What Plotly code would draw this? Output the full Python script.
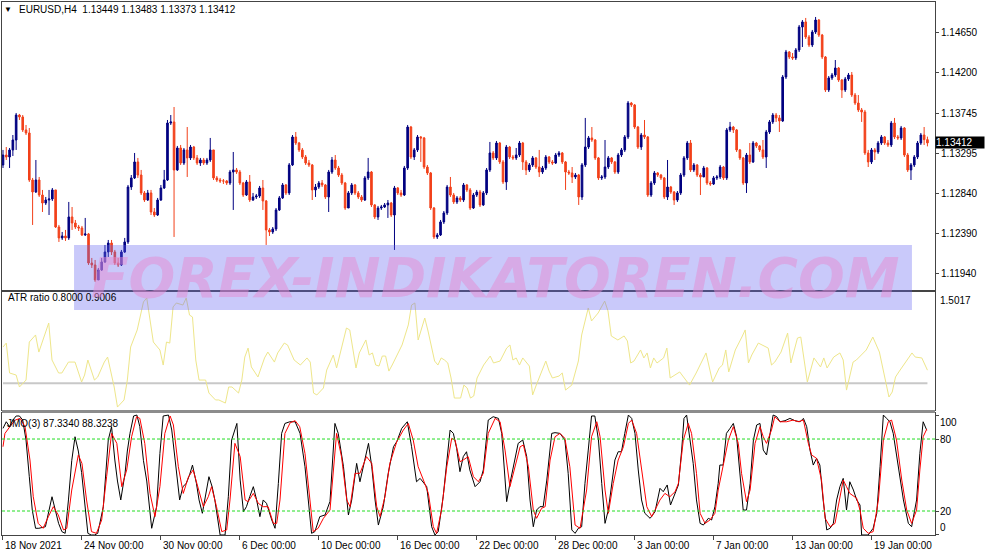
import plotly.graph_objects as go

# EURUSD H4 -- one entry per bar, bar number is the position on the time axis
first_open = 1.13164
close = [
    1.13276, 1.13254, 1.13333, 1.13445, 1.13726, 1.13704, 1.13558, 1.13524, 1.12995, 1.12860,
    1.12995, 1.12826, 1.12736, 1.12770, 1.12781, 1.12883, 1.12466, 1.12343, 1.12365, 1.12343,
    1.12579, 1.12511, 1.12466, 1.12455, 1.12376, 1.12388, 1.12061, 1.12039, 1.11870, 1.11983,
    1.12073, 1.12185, 1.12286, 1.12185, 1.12061, 1.12039, 1.12185, 1.12298, 1.12916, 1.13018,
    1.13198, 1.13051, 1.12849, 1.12770, 1.12849, 1.12635, 1.12601, 1.12770, 1.12905, 1.12995,
    1.13636, 1.13648, 1.13108, 1.13355, 1.13186, 1.13333, 1.13243, 1.13366, 1.13243, 1.13186,
    1.13220, 1.13186, 1.13220, 1.13333, 1.13018, 1.12995, 1.12984, 1.12984, 1.12961, 1.13085,
    1.13108, 1.13085, 1.12961, 1.12826, 1.12973, 1.12770, 1.12804, 1.12815, 1.12905, 1.12759,
    1.12433, 1.12410, 1.12444, 1.12658, 1.12793, 1.12939, 1.12849, 1.13164, 1.13479, 1.13411,
    1.13333, 1.13254, 1.13186, 1.13164, 1.12883, 1.12916, 1.12961, 1.12939, 1.12804, 1.13085,
    1.13220, 1.13130, 1.13051, 1.12961, 1.12680, 1.12849, 1.12939, 1.12849, 1.12804, 1.12770,
    1.13018, 1.13085, 1.12714, 1.12579, 1.12680, 1.12691, 1.12714, 1.12736, 1.12601, 1.12905,
    1.12849, 1.12826, 1.13130, 1.13591, 1.13254, 1.13333, 1.13479, 1.13468, 1.13141, 1.13074,
    1.12680, 1.12354, 1.12376, 1.12523, 1.12624, 1.12916, 1.12826, 1.12748, 1.12793, 1.12770,
    1.12939, 1.12883, 1.12680, 1.12826, 1.12860, 1.12714, 1.12849, 1.13108, 1.13299, 1.13243,
    1.13411, 1.13198, 1.12973, 1.13366, 1.13254, 1.13243, 1.13276, 1.13411, 1.13198, 1.13108,
    1.13164, 1.13243, 1.13141, 1.13085, 1.13130, 1.13254, 1.13198, 1.13186, 1.13276, 1.13299,
    1.13198, 1.13085, 1.13074, 1.13029, 1.13051, 1.12804, 1.13164, 1.13366, 1.13468, 1.13445,
    1.13243, 1.13018, 1.13029, 1.13141, 1.13243, 1.13198, 1.13085, 1.13276, 1.13333, 1.13479,
    1.13861, 1.13839, 1.13591, 1.13366, 1.13501, 1.13479, 1.12826, 1.12961, 1.13074, 1.13051,
    1.13018, 1.12804, 1.12916, 1.12860, 1.12770, 1.12849, 1.13051, 1.13243, 1.13411, 1.13108,
    1.13164, 1.13051, 1.13029, 1.13130, 1.12961, 1.12950, 1.13018, 1.13029, 1.13141, 1.13018,
    1.13558, 1.13591, 1.13558, 1.13333, 1.13243, 1.12961, 1.13276, 1.13198, 1.13411, 1.13378,
    1.13333, 1.13254, 1.13535, 1.13648, 1.13726, 1.13693, 1.13659, 1.14154, 1.14435, 1.14379,
    1.14368, 1.14458, 1.14716, 1.14773, 1.14604, 1.14514, 1.14660, 1.14795, 1.14626, 1.14379,
    1.14008, 1.14143, 1.14176, 1.14255, 1.14120, 1.14008, 1.14131, 1.14176, 1.13951, 1.13861,
    1.13783, 1.13760, 1.13299, 1.13198, 1.13333, 1.13310, 1.13411, 1.13479, 1.13411, 1.13389,
    1.13636, 1.13479, 1.13468, 1.13580, 1.13276, 1.13108, 1.13164, 1.13254, 1.13411, 1.13501,
    1.13449, 1.13412,
]
high = [
    1.13333, 1.13366, 1.13355, 1.13501, 1.13749, 1.13738, 1.13726, 1.13614, 1.13580, 1.13018,
    1.13220, 1.13029, 1.12883, 1.12804, 1.12883, 1.12905, 1.12883, 1.12489, 1.12410, 1.12433,
    1.12748, 1.12691, 1.12545, 1.12489, 1.12478, 1.12568, 1.12399, 1.12118, 1.12095, 1.12005,
    1.12118, 1.12264, 1.12320, 1.12320, 1.12208, 1.12118, 1.12208, 1.12343, 1.12939, 1.13051,
    1.13299, 1.13243, 1.13108, 1.12871, 1.12883, 1.12883, 1.12680, 1.12793, 1.12939, 1.13108,
    1.13670, 1.13726, 1.13816, 1.13378, 1.13389, 1.13355, 1.13591, 1.13389, 1.13378, 1.13276,
    1.13243, 1.13243, 1.13243, 1.13468, 1.13333, 1.13040, 1.13018, 1.13006, 1.12995, 1.13108,
    1.13310, 1.13130, 1.13108, 1.12973, 1.12995, 1.13051, 1.12849, 1.12838, 1.12928, 1.12995,
    1.12770, 1.12455, 1.12466, 1.12680, 1.12815, 1.12961, 1.12950, 1.13186, 1.13501, 1.13535,
    1.13423, 1.13355, 1.13276, 1.13220, 1.13175, 1.12950, 1.12984, 1.12995, 1.12950, 1.13108,
    1.13254, 1.13276, 1.13153, 1.13074, 1.12973, 1.12871, 1.12961, 1.12950, 1.12871, 1.12826,
    1.13040, 1.13243, 1.13096, 1.12725, 1.12703, 1.12714, 1.12736, 1.12770, 1.12748, 1.12928,
    1.12916, 1.12883, 1.13153, 1.13614, 1.13603, 1.13355, 1.13501, 1.13490, 1.13479, 1.13164,
    1.13085, 1.12691, 1.12399, 1.12545, 1.12646, 1.12939, 1.13029, 1.12849, 1.12815, 1.12815,
    1.12961, 1.12950, 1.12905, 1.12849, 1.12883, 1.12883, 1.12871, 1.13130, 1.13423, 1.13321,
    1.13434, 1.13423, 1.13220, 1.13389, 1.13378, 1.13276, 1.13355, 1.13434, 1.13423, 1.13220,
    1.13186, 1.13265, 1.13254, 1.13333, 1.13153, 1.13276, 1.13265, 1.13220, 1.13299, 1.13321,
    1.13310, 1.13209, 1.13108, 1.13141, 1.13074, 1.13063, 1.13186, 1.13693, 1.13490, 1.13591,
    1.13456, 1.13254, 1.13051, 1.13445, 1.13265, 1.13254, 1.13209, 1.13299, 1.13355, 1.13501,
    1.13884, 1.13873, 1.13850, 1.13603, 1.13524, 1.13670, 1.13490, 1.12984, 1.13096, 1.13085,
    1.13063, 1.13029, 1.13220, 1.12928, 1.12871, 1.12871, 1.13074, 1.13265, 1.13434, 1.13445,
    1.13186, 1.13175, 1.13074, 1.13153, 1.13141, 1.12984, 1.13040, 1.13051, 1.13164, 1.13153,
    1.13580, 1.13648, 1.13603, 1.13569, 1.13344, 1.13254, 1.13299, 1.13411, 1.13434, 1.13423,
    1.13389, 1.13445, 1.13558, 1.13670, 1.13749, 1.13749, 1.13726, 1.14176, 1.14458, 1.14446,
    1.14424, 1.14480, 1.14739, 1.14795, 1.14818, 1.14626, 1.14683, 1.14829, 1.14806, 1.14638,
    1.14390, 1.14165, 1.14199, 1.14345, 1.14266, 1.14131, 1.14154, 1.14199, 1.14210, 1.13974,
    1.13951, 1.13805, 1.13783, 1.13333, 1.13355, 1.13355, 1.13434, 1.13501, 1.13490, 1.13445,
    1.13659, 1.13693, 1.13501, 1.13603, 1.13591, 1.13299, 1.13186, 1.13276, 1.13434, 1.13524,
    1.13591, 1.13483,
]
low = [
    1.13130, 1.13220, 1.13130, 1.13265, 1.13333, 1.13670, 1.13535, 1.13501, 1.12973, 1.12489,
    1.12849, 1.12804, 1.12635, 1.12714, 1.12601, 1.12759, 1.12455, 1.12298, 1.12320, 1.12309,
    1.12320, 1.12433, 1.12444, 1.12421, 1.12365, 1.12365, 1.12039, 1.12005, 1.11848, 1.11949,
    1.11971, 1.12061, 1.12129, 1.12151, 1.12039, 1.12016, 1.12028, 1.12174, 1.12275, 1.12883,
    1.13006, 1.13018, 1.12826, 1.12748, 1.12759, 1.12601, 1.12579, 1.12590, 1.12759, 1.12894,
    1.12984, 1.13614, 1.12354, 1.13096, 1.13164, 1.13164, 1.13029, 1.13220, 1.13220, 1.13164,
    1.13153, 1.13164, 1.13164, 1.13198, 1.12995, 1.12973, 1.12961, 1.12950, 1.12939, 1.12939,
    1.12658, 1.13063, 1.12939, 1.12804, 1.12815, 1.12748, 1.12759, 1.12781, 1.12793, 1.12658,
    1.12264, 1.12365, 1.12388, 1.12421, 1.12646, 1.12781, 1.12826, 1.12826, 1.13153, 1.13389,
    1.13310, 1.13231, 1.13164, 1.13141, 1.12770, 1.12804, 1.12894, 1.12916, 1.12781, 1.12635,
    1.13063, 1.13108, 1.13029, 1.12939, 1.12658, 1.12680, 1.12826, 1.12826, 1.12781, 1.12748,
    1.12759, 1.12995, 1.12691, 1.12556, 1.12545, 1.12658, 1.12680, 1.12568, 1.12579, 1.12208,
    1.12826, 1.12804, 1.12815, 1.13108, 1.13231, 1.13220, 1.13310, 1.13198, 1.13119, 1.13051,
    1.12658, 1.12331, 1.12331, 1.12365, 1.12500, 1.12601, 1.12804, 1.12725, 1.12725, 1.12748,
    1.12748, 1.12860, 1.12658, 1.12669, 1.12804, 1.12691, 1.12703, 1.12826, 1.13085, 1.13220,
    1.13220, 1.13175, 1.12950, 1.12883, 1.13231, 1.13220, 1.13220, 1.13254, 1.13108, 1.13051,
    1.13085, 1.13141, 1.13119, 1.13029, 1.13063, 1.13108, 1.13175, 1.13164, 1.13175, 1.13254,
    1.13175, 1.12883, 1.13051, 1.12961, 1.13006, 1.12714, 1.12770, 1.13141, 1.13344, 1.13423,
    1.13220, 1.12995, 1.12995, 1.13006, 1.13119, 1.13175, 1.13063, 1.13063, 1.13254, 1.13310,
    1.13456, 1.13816, 1.13569, 1.13344, 1.13333, 1.13456, 1.12804, 1.12804, 1.12939, 1.13029,
    1.12995, 1.12781, 1.12770, 1.12838, 1.12714, 1.12748, 1.12826, 1.13029, 1.13220, 1.13085,
    1.13085, 1.13029, 1.12826, 1.13029, 1.12939, 1.12928, 1.12939, 1.12995, 1.13006, 1.12995,
    1.12995, 1.13535, 1.13524, 1.13310, 1.13220, 1.12939, 1.12849, 1.13175, 1.13186, 1.13355,
    1.13310, 1.13231, 1.13130, 1.13513, 1.13625, 1.13648, 1.13535, 1.13648, 1.14131, 1.14356,
    1.14345, 1.14345, 1.14435, 1.14491, 1.14581, 1.14491, 1.14491, 1.14638, 1.14604, 1.14356,
    1.13985, 1.13985, 1.14120, 1.14154, 1.14098, 1.13918, 1.13985, 1.14109, 1.13929, 1.13839,
    1.13760, 1.13648, 1.13276, 1.13141, 1.13175, 1.13220, 1.13288, 1.13389, 1.13389, 1.13366,
    1.13366, 1.13456, 1.13445, 1.13445, 1.13254, 1.13085, 1.12995, 1.13141, 1.13231, 1.13389,
    1.13389, 1.13373,
]
assert len(close) == len(high) == len(low)

# every H4 bar opens where the one before it closed
open_ = [first_open] + close[:-1]
bars = list(range(len(close)))

# ATR ratio: (bar, value)
atr_points = [
    (0, 1.081), (1, 1.112), (2, 0.879), (4, 0.863), (5, 0.770), (7, 0.824), (8, 1.120), (9.9, 1.175),
    (10.9, 1.042), (12.9, 1.190), (13.9, 1.268), (14.9, 0.980), (16.9, 0.879), (17.9, 0.879), (19.9, 0.964),
    (21.9, 0.964), (23.9, 0.809), (24.8, 0.863), (25.8, 0.980), (27.8, 0.824), (28.8, 0.848), (30.8, 0.964),
    (31.8, 1.003), (33.8, 0.770), (34.8, 0.614), (36.8, 0.669), (37.8, 0.824), (38.8, 1.081), (40.8, 1.214),
    (42.7, 1.432), (43.7, 1.463), (44.7, 1.292), (45.7, 1.120), (47.7, 1.058), (48.7, 0.941), (49.7, 1.120),
    (50.7, 1.112), (51.7, 1.393), (52.7, 1.424), (54.7, 1.408), (55.7, 1.463), (56.7, 1.330), (57.6, 1.315),
    (58.6, 0.980), (59.6, 0.824), (61.6, 0.824), (62.6, 0.723), (64.6, 0.669), (65.6, 0.669), (67.6, 0.645),
    (68.6, 0.770), (69.6, 0.770), (71.6, 0.723), (72.6, 0.824), (73.5, 1.003), (74.5, 1.073), (75.5, 0.926),
    (77.5, 0.848), (79.5, 0.996), (80.5, 1.042), (82.5, 0.964), (83.5, 1.035), (85.5, 1.112), (86.5, 1.097),
    (88.5, 0.980), (90.4, 0.941), (92.4, 0.996), (93.4, 0.964), (94.4, 0.723), (95.4, 0.708), (97.4, 0.762),
    (98.4, 0.902), (100.4, 1.019), (101.4, 0.918), (102.4, 1.019), (104.4, 1.229), (105.4, 1.214),
    (107.3, 0.918), (108.3, 1.035), (110.3, 1.136), (111.3, 1.019), (112.3, 1.035), (113.3, 0.941),
    (114.3, 0.933), (115.3, 1.011), (116.3, 1.011), (117.3, 0.894), (118.3, 0.941), (121.3, 1.097),
    (123.2, 1.253), (124.2, 1.408), (125.2, 1.424), (126.2, 1.136), (128.2, 1.307), (129.2, 1.206),
    (131.2, 0.972), (132.2, 0.941), (133.2, 0.996), (134.2, 0.980), (135.2, 0.957), (136.2, 0.840),
    (137.2, 0.684), (139.1, 0.684), (140.1, 0.785), (141.1, 0.762), (142.1, 0.684), (143.1, 0.700),
    (144.1, 0.840), (146.1, 0.941), (148.1, 1.011), (149.1, 0.957), (151.1, 0.972), (153.1, 1.073),
    (154.1, 1.097), (155, 0.980), (156, 0.996), (157, 0.941), (158, 0.996), (160, 0.933), (161, 0.708),
    (162, 0.778), (164, 0.902), (165, 0.972), (166, 0.894), (167, 0.840), (169, 0.855), (170, 0.879),
    (171, 0.746), (172.9, 0.785), (174.9, 0.972), (175.9, 1.175), (177.9, 1.385), (178.9, 1.284),
    (180.9, 1.346), (182.9, 1.439), (183.9, 1.362), (184.9, 1.167), (186.9, 1.136), (188.8, 1.167),
    (189.8, 1.128), (190.8, 0.957), (191.8, 0.972), (193.8, 1.058), (194.8, 0.996), (195.8, 1.035),
    (196.8, 0.918), (197.8, 0.996), (198.8, 0.957), (200.8, 0.996), (201.8, 1.073), (202.8, 0.840),
    (205.7, 0.887), (208.7, 0.785), (210.7, 0.879), (213.7, 1.035), (215.7, 0.809), (217.7, 0.918),
    (218.7, 0.941), (219.7, 1.058), (220.6, 0.887), (222.6, 1.058), (224.6, 1.159), (225.6, 1.214),
    (226.6, 0.957), (227.6, 1.019), (229.6, 1.112), (232.6, 1.073), (233.6, 0.941), (234.6, 0.964),
    (236.5, 1.042), (238.5, 1.190), (239.5, 0.957), (241.5, 1.151), (242.5, 1.159), (244.5, 0.809),
    (246.5, 0.996), (248.5, 0.926), (249.5, 0.996), (250.5, 0.918), (252.5, 1.003), (254.4, 1.035),
    (255.4, 0.980), (256.4, 0.746), (258.4, 0.964), (259.4, 0.980), (262.4, 1.058), (264.4, 1.159),
    (266.4, 1.042), (267.4, 0.926), (269.3, 0.692), (270.3, 0.731), (271.3, 0.848), (272.3, 0.887),
    (274.3, 0.964), (276.3, 1.035), (277.3, 1.003), (279.3, 0.996), (281, 0.901),
]
atr_level = 0.8

# JMO(3) main line and its signal line: (bar, value)
jmo_points = [
    (0, 88.9), (1, 94.4), (2, 90.3), (3, 95.8), (4, 99.2), (5, 99.2), (6, 95.8), (7, 79.2), (8, 48.6),
    (8.9, 20.8), (9.9, 5.6), (10.9, 5.6), (12.9, 6.9), (13.9, 20.8), (14.9, 31.9), (15.9, 20.8), (16.9, 9.7),
    (17.9, 2.8), (18.9, 1.4), (19.9, 29.2), (20.9, 62), (21.9, 81.9), (22.9, 70), (23.9, 52), (24.8, 26.4),
    (25.8, 1.4), (26.8, 0), (27.8, 0), (28.8, 1.4), (30.5, 23.6), (32, 79.2), (33, 90.3), (34, 62.5),
    (34.8, 45), (35.8, 29.2), (37.1, 51.4), (37.8, 70), (38.6, 84.7), (39.7, 99.2), (40.7, 100), (41.6, 90.3),
    (42.7, 62), (43.7, 45), (44.7, 20.8), (45.2, 5.6), (46.7, 23.6), (47.7, 68), (48.7, 99.2), (50.3, 100),
    (51.3, 87.5), (52.3, 65.3), (53.7, 29.2), (54.7, 40.3), (55.7, 43), (56.7, 50), (57.6, 58.3), (58.8, 43),
    (59.6, 29.2), (60.6, 18.1), (61.6, 34.7), (62.6, 48.6), (63.6, 40), (64.4, 29.2), (66, 0), (67.5, 0),
    (68.5, 31.9), (69.5, 79.2), (71.1, 93), (72.1, 45.8), (73.1, 19.4), (74, 23.6), (75, 31.9), (76.1, 40.3),
    (77.1, 29.2), (78.1, 15.3), (79.1, 29.2), (80.1, 26.4), (81.7, 12.5), (82.7, 5.6), (83.7, 43),
    (84.7, 84.7), (85.7, 93), (87.2, 94.4), (88.8, 94.4), (90.3, 84.7), (91.8, 56.9), (92.8, 29.2),
    (93.8, 1.4), (94.8, 2.8), (96.3, 15.3), (97.9, 16.7), (99.4, 28), (100.9, 93), (101.9, 84.7),
    (103.5, 56.9), (105, 16.7), (106, 29.2), (107.5, 59.7), (108.5, 44.4), (109.5, 56.9), (111.1, 76.4),
    (112.1, 56.9), (113.1, 29.2), (114.1, 8.3), (115.6, 23.6), (117.1, 51.4), (118.7, 73.6), (119.7, 77.8),
    (121.2, 88.9), (122.9, 94.4), (124.2, 73.6), (125.7, 44.4), (126.8, 47.2), (128.8, 40.3), (130.3, 6.9),
    (131.3, 0), (132.3, 2.8), (133.8, 31.9), (135.4, 70.8), (135.9, 87.5), (136.9, 84.7), (137.9, 72.2),
    (138.9, 52.8), (139.9, 65.3), (140.9, 69.4), (141.9, 54.2), (143.5, 40.3), (145, 44.4), (146, 54.2),
    (147.5, 95.8), (149, 98.6), (150.6, 97.2), (151.6, 84.7), (152.6, 51.4), (153.1, 27.8), (154.1, 43),
    (155.1, 56.9), (156.6, 76.4), (158, 79.2), (159.2, 65.3), (160.2, 29.2), (161.2, 6.9), (162.2, 20.8),
    (163.2, 23.6), (164.2, 23.6), (165.3, 45.8), (166.8, 84.7), (167.8, 85.3), (169.3, 84.7), (170.8, 79.2),
    (171.8, 51.4), (172.9, 4.2), (173.9, 1.4), (174.9, 5.6), (175.9, 6.9), (176.9, 43), (177.9, 70.8),
    (178.9, 99.2), (179.9, 99.2), (181, 79.2), (182, 43), (183, 9.7), (184, 20.8), (185, 43), (186, 62.5),
    (187, 69.4), (188, 69.4), (189, 84.7), (190.1, 100), (191.1, 97.2), (192.1, 84.7), (193.1, 54.2),
    (194.1, 29.2), (195.1, 18.1), (196.7, 13.9), (198.2, 19.4), (199.7, 38.9), (200.7, 36.1), (201.9, 41.7),
    (202.9, 25), (204.3, 34.7), (205.3, 41.7), (206.3, 70.8), (207, 97.2), (207.8, 100), (208.8, 81.9),
    (209.8, 59.7), (210.8, 29.2), (211.9, 9.7), (212.9, 8.3), (214.4, 13.9), (215.4, 12.5), (216.4, 23.6),
    (217.4, 43), (217.9, 58.3), (218.9, 58.3), (219.9, 84.7), (221, 88.9), (222, 93), (223, 81.9),
    (224, 48.6), (225, 20.8), (226, 20.8), (227.1, 43), (228.1, 79.2), (229.1, 91.7), (230.1, 93),
    (231.1, 70.8), (232.1, 66.7), (233.1, 84.7), (234.1, 100), (235.2, 98.6), (236.2, 94.4), (237.7, 95.3),
    (239.2, 97.2), (240.7, 95.3), (242.3, 94.4), (243.3, 97.2), (244.3, 90.3), (245.3, 70.8), (246.3, 58.3),
    (247.3, 63.9), (248.3, 58.3), (249.3, 29.2), (250.4, 4.2), (251.4, 5.6), (252.4, 9.7), (253.4, 29.2),
    (254.4, 40.3), (255.4, 47.2), (256.4, 20.8), (257.4, 44.4), (258.5, 37.5), (259.5, 29.2), (260.5, 25),
    (261, 0), (263, 0), (264.5, 5.6), (265.6, 18.1), (266.6, 56.9), (267.6, 100), (268.6, 97.2),
    (269.6, 94.4), (270.6, 84.7), (271.6, 68), (272.6, 48.6), (273.7, 29.2), (275.2, 9.7), (276.2, 6.9),
    (277.7, 29.2), (278.7, 68), (279.7, 94.4), (280.8, 87.3),
]
jmo_signal_points = [
    (0, 73.6), (0.6, 84.7), (2.1, 90.3), (3.7, 95.8), (5.2, 97.2), (6.7, 90.3), (8.2, 62.5), (9.2, 31.9),
    (10.7, 9.7), (12.2, 5.6), (13.8, 15.3), (15.3, 23.6), (16.8, 16.7), (18.4, 4.2), (19.4, 5.6), (20.9, 37.5),
    (22.9, 66.7), (24, 59.7), (25.4, 29.2), (26.9, 2.8), (28.4, 1.4), (30, 12.5), (31.5, 48.6), (33, 84.7),
    (34.6, 76.4), (36.1, 40.3), (37.6, 54.2), (39.1, 81.9), (40.6, 98.6), (41.6, 97.2), (43.1, 76.4),
    (44.7, 34.7), (46.2, 15.3), (47.7, 40.3), (49.2, 84.7), (50.8, 99.2), (51.8, 91.7), (53.3, 56.9),
    (54.8, 34.7), (56.4, 48.6), (57.8, 54.2), (59.3, 40.3), (60.9, 23.6), (62.4, 31.9), (63.4, 40.3),
    (64.9, 23.6), (66.5, 2.8), (68, 4.2), (69, 29.2), (70.5, 76.4), (72.1, 65.3), (73.6, 29.2), (74.5, 27.8),
    (76.1, 34.7), (77.6, 26.4), (79.1, 23.6), (80.6, 23.6), (82.2, 9.7), (83.2, 9.7), (84.2, 29.2),
    (85.7, 84.7), (87.3, 93.6), (88.8, 95.3), (90.2, 90.3), (91.8, 68), (93.3, 29.2), (94.3, 2.8),
    (95.8, 5.6), (97.4, 13.9), (99.4, 20.8), (101.4, 84.7), (102.9, 65.3), (104.5, 29.2), (105.5, 23.6),
    (107, 51.4), (108.5, 51.4), (110.5, 65.3), (112.1, 59.7), (113.6, 23.6), (114.6, 15.3), (116.1, 31.9),
    (117.6, 59.7), (119.7, 77.8), (121.7, 87.5), (123.2, 93), (124.7, 79.2), (126.2, 56.9), (127.8, 45.8),
    (129.3, 34.7), (130.8, 6.9), (131.8, 1.4), (133.3, 20.8), (134.9, 56.9), (136.4, 80.6), (137.4, 79.2),
    (138.9, 61.1), (139.9, 62.5), (141.4, 65.3), (143, 48.6), (144.5, 44.4), (146, 51.4), (147.5, 84.7),
    (149.6, 97.2), (151.1, 94.4), (152.6, 70.8), (154.1, 40.3), (155.6, 56.9), (157.2, 73.6), (158.2, 75),
    (159.7, 56.9), (161.2, 20.8), (162.2, 13.9), (163.7, 22.2), (164.8, 23.6), (166.3, 62.5), (167.8, 81.9),
    (169.3, 84.7), (170.8, 80.6), (172.3, 56.9), (173.9, 8.3), (175.4, 5.6), (177.4, 37.5), (178.9, 81.9),
    (180.5, 94.4), (181.5, 81.9), (183, 37.5), (184, 18.1), (185.5, 43), (187, 62.5), (188.6, 73.6),
    (190.1, 93), (191.1, 95.8), (192.6, 84.7), (194.1, 54.2), (195.7, 23.6), (197.2, 15.3), (198.7, 23.6),
    (199.7, 29.2), (201.2, 34.7), (202.7, 31.9), (204.3, 36.1), (205.3, 43), (206.8, 79.2), (208.3, 93),
    (209.3, 84.7), (210.8, 51.4), (211.9, 18.1), (213.4, 9.7), (214.9, 12.5), (216.4, 18.1), (217.4, 37.5),
    (218.9, 56.9), (220.5, 79.2), (222, 90.3), (223.5, 76.4), (224.5, 51.4), (226, 27.8), (227.1, 37.5),
    (228.6, 76.4), (230.1, 90.3), (231.1, 81.9), (232.1, 76.4), (233.6, 87.5), (234.6, 98.6), (236.2, 94.4),
    (238.2, 94.4), (240.2, 95.8), (241.7, 94.4), (243.3, 95.8), (244.8, 76.4), (245.8, 66.7), (247.3, 63.9),
    (248.8, 45.8), (249.9, 13.9), (251.4, 6.9), (252.9, 9.7), (254.4, 31.9), (255.4, 45.8), (256.4, 40.3),
    (257.4, 34.7), (259.5, 30.6), (260.5, 20.8), (261.5, 5.6), (263, 1.4), (264.5, 2.8), (266.1, 29.2),
    (267.6, 79.2), (269.1, 94.4), (270.1, 95.8), (271.6, 79.2), (273.2, 45.8), (274.7, 20.8), (276.2, 9.7),
    (277.7, 20.8), (278.7, 54.2), (279.7, 81.9), (280.8, 88.3),
]
jmo_levels = [80, 20]
jmo_scale = [100, 80, 20, 0]

price_ticks = [1.11940, 1.12390, 1.12840, 1.13295, 1.13745, 1.14200, 1.14650]
time_tick_bars = [0, 24, 48, 72, 96, 120, 144, 168, 192, 216, 240, 264]
time_tick_labels = ['18 Nov 2021', '24 Nov 00:00', '30 Nov 00:00', '6 Dec 00:00', '10 Dec 00:00',
                    '16 Dec 00:00', '22 Dec 00:00', '28 Dec 00:00', '3 Jan 00:00', '7 Jan 00:00',
                    '13 Jan 00:00', '19 Jan 00:00']

BULL = '#000080'
BEAR = '#f2401a'
FONT = 'Liberation Sans'
small = dict(family=FONT, size=10, color='black')

fig = go.Figure()

fig.add_trace(go.Candlestick(
    x=bars, open=open_, high=high, low=low, close=close,
    increasing=dict(line=dict(color=BULL, width=1), fillcolor=BULL),
    decreasing=dict(line=dict(color=BEAR, width=1), fillcolor=BEAR),
    whiskerwidth=0, showlegend=False, xaxis='x', yaxis='y',
))

fig.add_trace(go.Scatter(
    x=[bars[0], bars[-1]], y=[atr_level, atr_level], mode='lines',
    line=dict(color='#c8c8c8', width=2), showlegend=False, xaxis='x2', yaxis='y2',
))
fig.add_trace(go.Scatter(
    x=[p[0] for p in atr_points], y=[p[1] for p in atr_points], mode='lines',
    line=dict(color='#eee68a', width=1), showlegend=False, xaxis='x2', yaxis='y2',
))

fig.add_trace(go.Scatter(
    x=[p[0] for p in jmo_points], y=[p[1] for p in jmo_points], mode='lines',
    line=dict(color='black', width=1), showlegend=False, xaxis='x3', yaxis='y3',
))
fig.add_trace(go.Scatter(
    x=[p[0] for p in jmo_signal_points], y=[p[1] for p in jmo_signal_points], mode='lines',
    line=dict(color='#ff0000', width=1), showlegend=False, xaxis='x3', yaxis='y3',
))

frame = dict(showgrid=False, zeroline=False, showline=True, linecolor='#444', linewidth=1, mirror=True)

fig.update_layout(
    width=987, height=555,
    margin=dict(l=2, r=52, t=2, b=20),
    paper_bgcolor='white', plot_bgcolor='white',
    showlegend=False,
    xaxis=dict(domain=[0, 1], anchor='y', range=[-0.3, 283.3], showticklabels=False, ticks='',
               rangeslider=dict(visible=False), **frame),
    xaxis2=dict(domain=[0, 1], anchor='y2', matches='x', showticklabels=False, ticks='', **frame),
    xaxis3=dict(domain=[0, 1], anchor='y3', matches='x', tickmode='array', tickvals=time_tick_bars,
                ticks='outside', ticklen=4, tickcolor='#444', showticklabels=False, **frame),
    yaxis=dict(domain=[0.4597, 1.0], side='right', range=[1.117575, 1.149975],
               tickmode='array', tickvals=price_ticks, ticktext=[f'{v:.5f}' for v in price_ticks],
               ticks='outside', ticklen=3, tickcolor='#444', tickfont=small, **frame),
    yaxis2=dict(domain=[0.2345, 0.4559], side='right', range=[0.5908, 1.5095],
                showticklabels=False, ticks='', **frame),
    yaxis3=dict(domain=[0, 0.2289], side='right', range=[0, 101.7], tickmode='array',
                tickvals=jmo_scale, ticks='outside', ticklen=3, tickcolor='#444',
                showticklabels=False, **frame),
)

# level lines of the JMO window
for lv in jmo_levels:
    fig.add_shape(type='line', xref='x3 domain', x0=0, x1=1, yref='y3', y0=lv, y1=lv,
                  line=dict(color='#22dd22', width=1, dash='3px,2px'))

# thick separator between ATR and JMO windows
fig.add_shape(type='rect', xref='paper', x0=0, x1=1, yref='paper', y0=0.2289, y1=0.2345,
              fillcolor='#8c8c8c', line=dict(width=0))

# watermark band
fig.add_shape(type='rect', xref='paper', x0=0.0772, x1=0.9753, yref='paper', y0=0.4221, y1=0.5441,
              fillcolor='rgba(100,100,240,0.35)', line=dict(width=0), layer='above')

ann = []
ann.append(dict(xref='paper', yref='paper', x=0.0064, y=0.985, text='▼', showarrow=False,
                font=dict(family=FONT, size=8, color='black'), xanchor='center', yanchor='middle'))
ann.append(dict(xref='paper', yref='paper', x=0.0161, y=0.985,
                text='EURUSD,H4  1.13449 1.13483 1.13373 1.13412', showarrow=False,
                font=small, xanchor='left', yanchor='middle'))
ann.append(dict(xref='paper', yref='paper', x=0.0043, y=0.4447, text='ATR ratio 0.8000 0.9006',
                showarrow=False, font=small, xanchor='left', yanchor='middle'))
ann.append(dict(xref='paper', yref='paper', x=0.0032, y=0.2101, text='JMO(3) 87.3340 88.3238',
                showarrow=False, font=small, xanchor='left', yanchor='middle'))

# current price box on the price scale
ann.append(dict(xref='paper', yref='y', x=1, y=close[-1], text=f'{close[-1]:.5f}', showarrow=False,
                xanchor='left', yanchor='middle', bgcolor='black', width=48, align='left',
                borderpad=0, font=dict(family=FONT, size=10, color='white')))

# ATR scale
ann.append(dict(xref='paper', yref='y2', x=1, xshift=3, y=1.5017, text='1.5017', showarrow=False,
                xanchor='left', yanchor='top', font=small))
ann.append(dict(xref='paper', yref='y2', x=1, xshift=3, y=0.5907, text='0.5907', showarrow=False,
                xanchor='left', yanchor='bottom', font=small))

# JMO scale
for v in jmo_scale:
    anchor = 'top' if v == 100 else ('bottom' if v == 0 else 'middle')
    ann.append(dict(xref='paper', yref='y3', x=1, xshift=3, y=v, text=str(v), showarrow=False,
                    xanchor='left', yanchor=anchor, font=small))

# time scale
for b, lab in zip(time_tick_bars, time_tick_labels):
    ann.append(dict(xref='x3', yref='paper', x=b, y=0, yshift=-3, text=lab, showarrow=False,
                    xanchor='left', yanchor='top', font=small))

ann.append(dict(xref='paper', yref='paper', x=0.528, y=0.482, text='FOREX-INDIKATOREN.COM',
                showarrow=False, xanchor='center', yanchor='middle',
                font=dict(family='DejaVu Sans', size=55, weight='bold', style='italic',
                          color='rgba(230,140,210,0.5)')))

fig.update_layout(annotations=ann)

# the page's default body margin would push the chart off the window edge
fig.write_html("out.html", config={'displayModeBar': False},
               post_script="document.body.style.margin='0';")
